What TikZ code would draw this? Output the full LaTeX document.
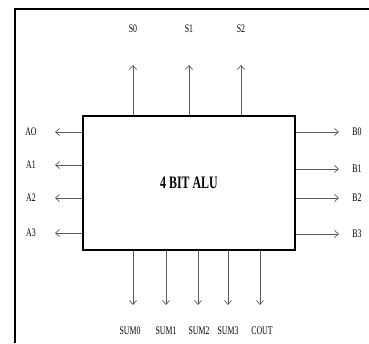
\documentclass[tikz,border=0pt]{standalone}
\usepackage{fontspec}
\setmainfont{Liberation Serif}
\newfontfamily\condfont[FakeStretch=0.68]{Liberation Serif}
\usetikzlibrary{arrows.meta}
\begin{document}
\begin{tikzpicture}[x=1pt,y=-1pt,
  sig/.style={draw=black!65,line width=0.7pt,-{Straight Barb[length=4pt,width=7pt]}},
  lbl/.style={inner sep=0pt,font=\condfont\fontsize{11.5}{12}\selectfont},
  frameline/.style={line width=1.8pt,black}]
\useasboundingbox (0,0) rectangle (369,343);
\draw[frameline] (15,343) -- (15,9) -- (369,9);
\node[draw,line width=2pt,minimum width=212pt,minimum height=134pt,inner sep=0pt,
  font=\condfont\bfseries\fontsize{17.5}{18}\selectfont] (alu) at (189,183) {4 BIT ALU};
% top selects
\foreach \n/\x in {0/133,1/189,2/241}{
  \coordinate (s\n) at (\x,65);
  \node[lbl] (ls\n) at (\x,29) {S\n};
  \draw[sig] (alu.north -| s\n) -- (s\n);
}
% left
\foreach \n/\y/\t in {0/132/AO,1/165/A1,2/198/A2,3/233/A3}{
  \coordinate (a\n) at (55,\y);
  \node[lbl] (la\n) at (31,\y) {\t};
  \draw[sig] (alu.west |- a\n) -- (a\n);
}
% right
\foreach \n/\y in {0/132,1/169,2/198,3/234}{
  \coordinate (b\n) at (339,\y);
  \node[lbl] (lb\n) at (357,\y) {B\n};
  \draw[sig] (alu.east |- b\n) -- (b\n);
}
% bottom
\foreach \n/\x/\lx/\t in {0/133/130/SUM0,1/166/166/SUM1,2/198/199/SUM2,3/228/228/SUM3,4/260/262/COUT}{
  \coordinate (o\n) at (\x,305);
  \node[lbl] (lo\n) at (\lx,331) {\t};
  \draw[sig] (alu.south -| o\n) -- (o\n);
}
\end{tikzpicture}
\end{document}
